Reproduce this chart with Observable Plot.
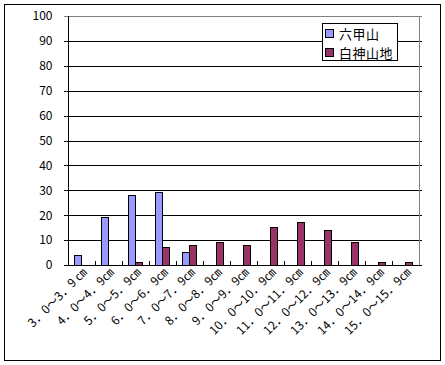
<!DOCTYPE html>
<html><head><meta charset="utf-8">
<script src="https://cdn.jsdelivr.net/npm/d3@7"></script>
<script src="https://cdn.jsdelivr.net/npm/@observablehq/plot@0.6"></script>
<style>
body{margin:0;background:#fff}
#wrap{position:relative;width:445px;height:365px;font-family:"Noto Sans CJK JP",sans-serif}
#frame{position:absolute;left:4px;top:4px;width:437px;height:357px;border:1px solid #000;box-sizing:border-box;pointer-events:none}
#legend{position:absolute;left:322px;top:23px;width:76px;height:38px;border:1px solid #000;background:#fff;box-sizing:border-box;font-size:13px;line-height:19px;padding-top:0px}
.row{display:flex;align-items:center;height:19px;padding-left:2px;letter-spacing:0.5px;white-space:nowrap}
.sw{display:inline-block;width:9px;height:9px;border:1px solid #000;margin-right:5px;flex:none;box-sizing:border-box}
svg{shape-rendering:crispEdges}
svg text{shape-rendering:auto}
</style></head><body><div id="wrap"><div id="frame"></div></div>
<script>
const categories=["3．0～3．9 ㎝","4．0～4．9㎝","5．0～5．9㎝","6．0～6．9㎝","7．0～7．9㎝","8．0～8．9㎝","9．0～9．9㎝","10．0～10．9㎝","11．0～11．9㎝","12．0～12．9㎝","13．0～13．9㎝","14．0～14．9㎝","15．0～15．9㎝"];
const seriesNames=["六甲山","白神山地"];
const rokko=[4,19,28,29,5,null,null,null,null,null,null,null,null];
const shirakami=[null,null,1,7,8,9,8,15,17,14,9,1,1];
const yTicks=[0,10,20,30,40,50,60,70,80,90,100];
const colors=["#9999FF","#993366"];

const W=445,H=365,mL=64,mR=23,mT=16,mB=100;
const bw=(W-mL-mR)/categories.length;
const data=categories.map((c,i)=>({cat:c,rokko:rokko[i],shira:shirakami[i]}));
const chart=Plot.plot({
  width:W,height:H,marginLeft:mL,marginRight:mR,marginTop:mT,marginBottom:mB,
  style:{fontFamily:'"Noto Sans CJK JP",sans-serif',fontSize:"12px",color:"#000",background:"transparent"},
  x:{domain:categories,padding:0,label:null},
  y:{domain:[0,100],label:null},
  marks:[
    Plot.ruleY(yTicks.filter(t=>t>0&&t<100),{stroke:"#000"}),
    Plot.ruleY([100],{stroke:"#808080"}),
    Plot.ruleX([categories[categories.length-1]],{dx:bw/2,y1:0,y2:100,stroke:"#808080"}),
    Plot.barY(data,{x:"cat",y:"rokko",fill:colors[0],stroke:"#000",insetLeft:0.22*bw,insetRight:0.5*bw}),
    Plot.barY(data,{x:"cat",y:"shira",fill:colors[1],stroke:"#000",insetLeft:0.5*bw,insetRight:0.22*bw}),
    Plot.ruleX(categories.slice(1),{dx:-bw/2,y1:0,y2:1.6,stroke:"#000"}),
    Plot.ruleY([0],{stroke:"#000"}),
    Plot.ruleX([categories[0]],{dx:-bw/2,y1:0,y2:100,stroke:"#000"}),
    Plot.axisY({ticks:yTicks,tickSize:0,tickPadding:12,label:null}),
    Plot.axisX({tickSize:0,tickRotate:-45,tickPadding:5,dx:3,label:null})
  ]
});
const wrap=document.getElementById("wrap");
chart.style.position="absolute";chart.style.left="0";chart.style.top="0";
wrap.prepend(chart);
const leg=document.createElement("div");leg.id="legend";
seriesNames.forEach((n,i)=>{
  const r=document.createElement("div");r.className="row";
  const s=document.createElement("span");s.className="sw";s.style.background=colors[i];
  r.appendChild(s);r.appendChild(document.createTextNode(n));leg.appendChild(r);
});
wrap.appendChild(leg);
</script>
</body></html>
